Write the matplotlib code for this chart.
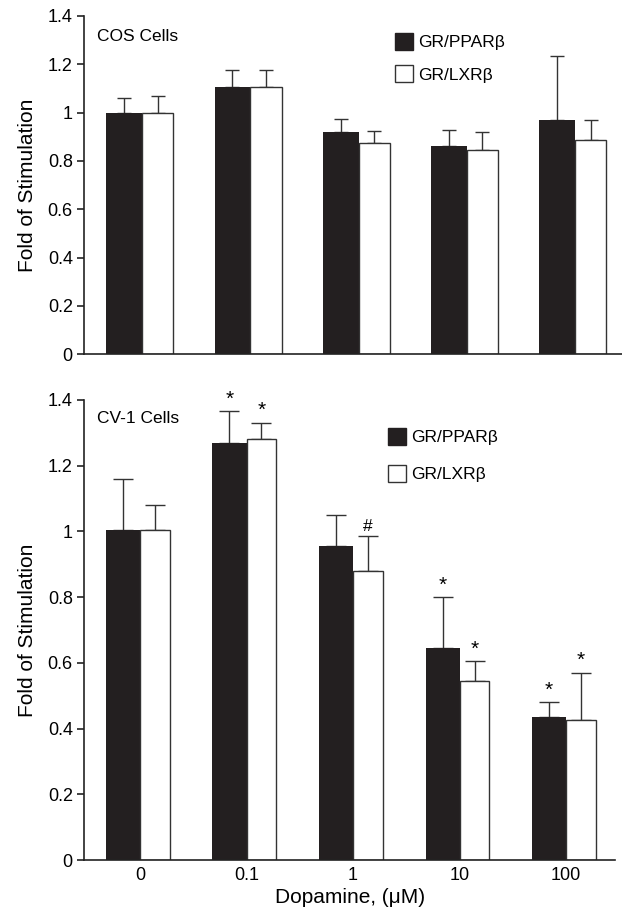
import numpy as np
import matplotlib
matplotlib.use("Agg")
import matplotlib.pyplot as plt
from matplotlib.patches import Patch

plt.rcParams['font.family'] = ['Liberation Sans', 'DejaVu Sans']

doses = ['0', '0.1', '1', '10', '100']

# COS cells
cos_ppar = [1.0, 1.105, 0.92, 0.86, 0.97]
cos_ppar_err = [0.06, 0.07, 0.055, 0.07, 0.265]
cos_lxr = [1.0, 1.105, 0.875, 0.845, 0.885]
cos_lxr_err = [0.07, 0.07, 0.05, 0.075, 0.085]

# CV-1 cells
cv_ppar = [1.005, 1.27, 0.955, 0.645, 0.435]
cv_ppar_err = [0.155, 0.095, 0.095, 0.155, 0.045]
cv_lxr = [1.005, 1.28, 0.88, 0.545, 0.425]
cv_lxr_err = [0.075, 0.05, 0.105, 0.06, 0.145]
cv_ppar_marks = ['', '*', '', '*', '*']
cv_lxr_marks = ['', '*', '#', '*', '*']

yticks = [0, 0.2, 0.4, 0.6, 0.8, 1.0, 1.2, 1.4]
ylabels = ['0', '0.2', '0.4', '0.6', '0.8', '1', '1.2', '1.4']

BLACK = '#231f20'

fig = plt.figure(figsize=(6.22, 9.13), dpi=100)
ax1 = fig.add_axes([0.135, 0.612, 0.865, 0.3705])
ax2 = fig.add_axes([0.135, 0.058, 0.854, 0.504])


def panel(ax, ppar, ppar_err, lxr, lxr_err, wb, ww, xlim, cap, name, name_y,
          leg_pos, leg_sp):
    x = np.arange(len(doses))
    ax.bar(x, ppar, width=-wb, align='edge', color=BLACK, zorder=2)
    ax.bar(x, lxr, width=ww, align='edge', color='white', edgecolor='#333333',
           linewidth=1.0, zorder=2)
    ax.errorbar(x - wb / 2, ppar, yerr=[np.zeros(5), ppar_err], fmt='none',
                ecolor='#333333', elinewidth=1.0, capsize=cap, capthick=1.0, zorder=1)
    ax.errorbar(x + ww / 2, lxr, yerr=[np.zeros(5), lxr_err], fmt='none',
                ecolor='#333333', elinewidth=1.0, capsize=cap, capthick=1.0, zorder=1)
    ax.set_xlim(*xlim)
    ax.set_ylim(0, 1.4)
    ax.set_yticks(yticks)
    ax.set_yticklabels(ylabels)
    ax.tick_params(axis='y', labelsize=13, length=5, width=1.2, color='#222222',
                   pad=3)
    ax.tick_params(axis='x', length=0)
    for s in ['top', 'right']:
        ax.spines[s].set_visible(False)
    for s in ['left', 'bottom']:
        ax.spines[s].set_linewidth(1.2)
        ax.spines[s].set_color('#222222')
    ax.set_ylabel('Fold of Stimulation', fontsize=15, labelpad=8)
    ax.text(0.025, name_y, name, transform=ax.transAxes, fontsize=12.5,
            va='center', ha='left')
    handles = [Patch(facecolor=BLACK, edgecolor=BLACK, label='GR/PPARβ'),
               Patch(facecolor='white', edgecolor='#333333', label='GR/LXRβ')]
    ax.legend(handles=handles, loc='upper left', bbox_to_anchor=leg_pos,
              frameon=False, fontsize=12.5, handlelength=1.05, handleheight=1.15,
              handletextpad=0.3, labelspacing=leg_sp, borderpad=0, borderaxespad=0)
    return x


x = panel(ax1, cos_ppar, cos_ppar_err, cos_lxr, cos_lxr_err, 0.33, 0.29,
          (-0.536, 4.434), 4.7, 'COS Cells', 0.938, (0.578, 0.95), 0.85)
ax1.set_xticks([])

x = panel(ax2, cv_ppar, cv_ppar_err, cv_lxr, cv_lxr_err, 0.32, 0.28,
          (-0.526, 4.46), 7, 'CV-1 Cells', 0.959, (0.572, 0.94), 1.15)
ax2.set_xticks(x)
ax2.set_xticklabels(doses, fontsize=13)
ax2.tick_params(axis='x', pad=5)
ax2.set_xlabel('Dopamine, (μM)', fontsize=15, labelpad=3)

for i in range(len(doses)):
    if cv_ppar_marks[i]:
        ax2.text(x[i] - 0.16, cv_ppar[i] + cv_ppar_err[i] + 0.008, cv_ppar_marks[i],
                 ha='center', va='bottom', fontsize=15)
    if cv_lxr_marks[i]:
        ax2.text(x[i] + 0.14, cv_lxr[i] + cv_lxr_err[i] + 0.008, cv_lxr_marks[i],
                 ha='center', va='bottom',
                 fontsize=15 if cv_lxr_marks[i] == '*' else 12.5)

fig.savefig('out.png', dpi=100)
